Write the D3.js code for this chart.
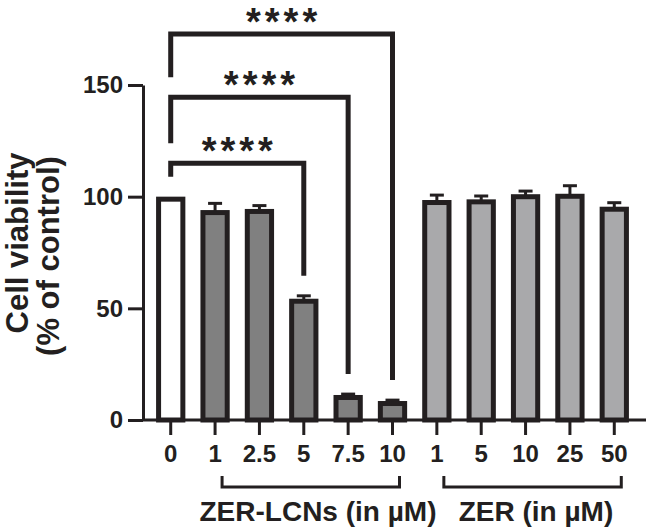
<!DOCTYPE html>
<html>
<head>
<meta charset="utf-8">
<script src="https://cdn.jsdelivr.net/npm/d3@7"></script>
<style>
  body { margin: 0; background: #fff; }
  svg text { font-family: "Liberation Sans", Arial, Helvetica, sans-serif; font-weight: bold; fill: #231f20; }
</style>
</head>
<body>
<script>
// tick labels along x (doses), group of each bar, mean viability and SEM
var doseLabels = ["0", "1", "2.5", "5", "7.5", "10", "1", "5", "10", "25", "50"];
var barGroups = ["ctrl", "lcn", "lcn", "lcn", "lcn", "lcn", "zer", "zer", "zer", "zer", "zer"];
var viability = [100, 94, 94.5, 54.3, 11.2, 8.5, 98.5, 98.8, 101.1, 101.3, 95.5];
var sem = [0, 3, 1.5, 1.3, 0.4, 0.4, 2.2, 1.5, 1.4, 3.6, 1.8];
var yTicks = [0, 50, 100, 150];

// significance brackets: from bar, to bar, level (in % units), label
var sigFrom = [0, 0, 0];
var sigTo = [3, 4, 5];
var sigLevel = [115, 144.5, 172.8];
var sigText = ["****", "****", "****"];

// group brackets under the axis
var groupNames = ["ZER-LCNs (in \u00b5M)", "ZER (in \u00b5M)"];
var groupFirst = [1, 6];
var groupLast = [5, 10];

var ink = "#231f20";
var fills = { ctrl: "#ffffff", lcn: "#808080", zer: "#a9a9ab" };

var width = 646, height = 528;
var svg = d3.select("body").append("svg")
	.attr("width", width)
	.attr("height", height);

var idx = d3.range(viability.length);

var x = d3.scaleBand()
	.domain(idx)
	.range([141, 644])
	.padding(0.34);

var y = d3.scaleLinear()
	.domain([0, 150])
	.range([420, 85]);

var bw = 5; // bar border

// bars (border drawn inside the bar outline)
svg.selectAll(".bar")
	.data(idx)
	.enter()
	.append("rect")
	.attr("class", "bar")
	.attr("x", function (i) { return x(i) + bw / 2; })
	.attr("y", function (i) { return y(viability[i]) + bw / 2; })
	.attr("width", x.bandwidth() - bw)
	.attr("height", function (i) { return y(0) - y(viability[i]) - bw / 2; })
	.attr("fill", function (i) { return fills[barGroups[i]]; })
	.attr("stroke", ink)
	.attr("stroke-width", bw);

// error bars (upper half only)
var errs = svg.selectAll(".err")
	.data(idx.filter(function (i) { return sem[i] > 0; }))
	.enter()
	.append("g")
	.attr("class", "err")
	.attr("stroke", ink)
	.attr("stroke-width", 3);
errs.append("line")
	.attr("x1", function (i) { return x(i) + x.bandwidth() / 2; })
	.attr("x2", function (i) { return x(i) + x.bandwidth() / 2; })
	.attr("y1", function (i) { return y(viability[i]) + 1; })
	.attr("y2", function (i) { return y(viability[i] + sem[i]); });
errs.append("line")
	.attr("x1", function (i) { return x(i) + x.bandwidth() / 2 - 7; })
	.attr("x2", function (i) { return x(i) + x.bandwidth() / 2 + 7; })
	.attr("y1", function (i) { return y(viability[i] + sem[i]); })
	.attr("y2", function (i) { return y(viability[i] + sem[i]); });

// axes
var yAxis = svg.append("g")
	.attr("transform", "translate(143,0)")
	.call(d3.axisLeft(y).tickValues(yTicks).tickSize(15).tickSizeOuter(0).tickPadding(5));
yAxis.selectAll("text").style("font-size", "24px");

var xAxis = svg.append("g")
	.attr("transform", "translate(0,420)")
	.call(d3.axisBottom(x).tickSize(15).tickSizeOuter(0).tickPadding(10)
		.tickFormat(function (i) { return doseLabels[i]; }));
xAxis.selectAll("text").style("font-size", "24px");
xAxis.select(".domain").attr("d", "M143,0H646");

svg.selectAll(".domain, .tick line")
	.attr("stroke", ink)
	.attr("stroke-width", 3);

// significance brackets
var gap = 20;
function topOf(i) { return y(viability[i] + sem[i]); }
var sig = svg.selectAll(".sig")
	.data(d3.range(sigFrom.length))
	.enter()
	.append("g")
	.attr("class", "sig");
sig.append("path")
	.attr("fill", "none")
	.attr("stroke", ink)
	.attr("stroke-width", 5)
	.attr("d", function (k) {
		var cx1 = x(sigFrom[k]) + x.bandwidth() / 2;
		var cx2 = x(sigTo[k]) + x.bandwidth() / 2;
		var ly = y(sigLevel[k]);
		// left leg stops above the next bracket below, or the bar
		var below = k > 0 ? y(sigLevel[k - 1]) : topOf(sigFrom[k]);
		return "M" + cx1 + "," + (below - gap) + "V" + ly + "H" + cx2 + "V" + (topOf(sigTo[k]) - gap);
	});
sig.append("text")
	.attr("x", function (k) { return (x(sigFrom[k]) + x(sigTo[k])) / 2 + x.bandwidth() / 2 + 2; })
	.attr("y", function (k) { return y(sigLevel[k]) + 1; })
	.attr("text-anchor", "middle")
	.style("font-size", "38px")
	.style("letter-spacing", "4px")
	.text(function (k) { return sigText[k]; });

// group brackets below the x axis
var grp = svg.selectAll(".grp")
	.data(d3.range(groupNames.length))
	.enter()
	.append("g")
	.attr("class", "grp");
grp.append("path")
	.attr("fill", "none")
	.attr("stroke", ink)
	.attr("stroke-width", 3)
	.attr("d", function (k) {
		var a = x(groupFirst[k]) + x.bandwidth() / 2 + 7;
		var b = x(groupLast[k]) + x.bandwidth() / 2 + 7;
		return "M" + a + ",476V487H" + b + "V476";
	});
grp.append("text")
	.attr("x", function (k) { return k === 0 ? 318 : 536; })
	.attr("y", 521)
	.attr("text-anchor", "middle")
	.style("font-size", "28px")
	.text(function (k) { return groupNames[k]; });

// y title, two lines
svg.append("text")
	.attr("transform", "translate(28,243) rotate(-90)")
	.attr("text-anchor", "middle")
	.style("font-size", "31px")
	.text("Cell viability");
svg.append("text")
	.attr("transform", "translate(59,256) rotate(-90)")
	.attr("text-anchor", "middle")
	.style("font-size", "31px")
	.text("(% of control)");
</script>
</body>
</html>
